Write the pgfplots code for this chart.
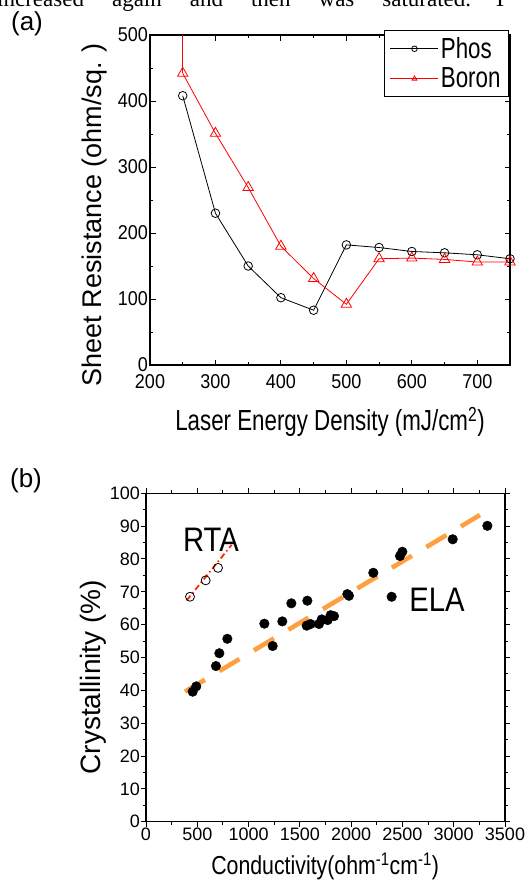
\documentclass[border=0pt]{standalone}
\usepackage{fontspec}
\setmainfont{Liberation Sans}
\newfontfamily\serifbody{Liberation Serif}
\newfontfamily\condA[FakeStretch=0.77]{Liberation Sans}
\newfontfamily\condB[FakeStretch=0.9]{Liberation Sans}
\newfontfamily\condC[FakeStretch=0.82]{Liberation Sans}
\newfontfamily\condR[FakeStretch=0.86]{Liberation Sans}
\usepackage{pgfplots}
\pgfplotsset{compat=1.18}

\definecolor{fitorange}{RGB}{255,160,64}
\definecolor{rtared}{RGB}{255,40,0}
\newcommand{\fs}[1]{\fontsize{#1}{#1}\selectfont}

\begin{document}
\begin{tikzpicture}[x=1pt,y=1pt]
% cut-off line of the paper's body text above the figure
\node[anchor=base west, inner sep=0pt, font=\serifbody\fs{23}] at (-3,-6)
  {increased\hspace{28pt}again\hspace{28pt}and\hspace{28pt}then\hspace{28pt}was\hspace{28pt}saturated.\hspace{22pt}T};

\node[font=\fs{26}] at (27,-24) {(a)};
\node[font=\fs{26}] at (26,-481) {(b)};

% (a) sheet resistance vs laser energy density
\begin{axis}[
  at={(150pt,-365pt)}, anchor=south west,
  scale only axis, width=360pt, height=330pt,
  xmin=200, xmax=750, ymin=0, ymax=500,
  xtick={200,300,...,700}, ytick={0,100,...,500},
  minor xtick={250,350,...,750}, minor ytick={50,150,...,450},
  tick align=inside, tick pos=both,
  major tick length=5.5pt, minor tick length=3pt,
  axis line style={line width=1.2pt},
  every tick/.style={black, line width=1pt},
  /pgf/number format/assume math mode=true,
  ticklabel style={font=\condB\fs{20}, inner sep=2pt},
  xticklabel style={yshift=-7pt},
  xlabel={Laser Energy Density (mJ/cm\textsuperscript{2})},
  ylabel={Sheet Resistance (ohm/sq. )},
  xlabel style={font=\condA\fs{29}, at={(axis description cs:0.5,-0.173)}, anchor=center},
  ylabel style={font=\fs{27}, at={(axis description cs:-0.153,0.455)}, anchor=center},
  legend style={at={(rel axis cs:0.997,1.015)}, anchor=north east,
    font=\condA\fs{29}, draw=black, line width=0.9pt, fill=white,
    inner xsep=6pt, inner ysep=5pt, row sep=4pt},
  legend cell align=left,
  legend image code/.code={
    \draw[#1] (0pt,0pt) -- (48pt,0pt);
    \draw[#1, mark size=2.8pt] plot coordinates {(24pt,0pt)};
  },
]
\addplot[black, line width=0.8pt, mark=o, mark size=4.3pt, mark options={fill=white, solid}]
  coordinates {(250,408) (300,230) (350,150) (400,102) (450,83) (500,182)
               (550,178) (600,172) (650,170) (700,167) (750,161)};
\addlegendentry{Phos}
\addplot[red, line width=0.8pt, mark=triangle, mark size=6pt, mark options={fill=white, solid}]
  coordinates {(250,442) (300,351) (350,269) (400,180) (450,131) (500,92)
               (550,161) (600,162) (650,160) (700,156) (750,156)};
\addlegendentry{Boron}
\addplot[red, line width=0.8pt, forget plot] coordinates {(250,442) (250,560)};
\end{axis}

% (b) crystallinity vs conductivity
\begin{axis}[
  at={(146pt,-821.7pt)}, anchor=south west,
  scale only axis, width=359pt, height=328.4pt,
  xmin=0, xmax=3500, ymin=0, ymax=100,
  xtick={0,500,...,3500}, ytick={0,10,...,100},
  minor x tick num=1, minor y tick num=1,
  tick align=outside, tick pos=both,
  major tick length=5pt, minor tick length=3pt,
  axis line style={line width=1.2pt},
  every tick/.style={black, line width=1pt},
  /pgf/number format/assume math mode=true,
  /pgf/number format/1000 sep={},
  ticklabel style={font=\fs{18}, inner sep=1pt},
  xlabel={Conductivity(ohm\textsuperscript{-1}cm\textsuperscript{-1})},
  ylabel={Crystallinity (\%)},
  xlabel style={font=\condC\fs{26}, at={(axis description cs:0.499,-0.135)}, anchor=center},
  ylabel style={font=\fs{28}, at={(axis description cs:-0.148,0.44)}, anchor=center},
]
% ELA samples
\addplot[only marks, mark=*, mark size=4.8pt, black] coordinates {
  (455,39.6) (490,41.2) (682,47.4) (715,51.3) (793,55.7) (1154,60.3)
  (1235,53.5) (1329,61.0) (1417,66.5) (1573,67.3) (1566,59.7) (1605,60.2)
  (1687,60.2) (1713,61.6) (1771,61.4) (1800,62.9) (1833,62.6) (1963,69.3)
  (1979,68.8) (2216,75.8) (2395,68.5) (2476,80.9) (2499,82.2) (2990,86.0)
  (3328,90.1)};
% ELA trend
\addplot[fitorange, line width=4.6pt, dash pattern=on 23.3pt off 16.9pt] coordinates {(380,39.6) (3256,93.4)};
% RTA samples
\addplot[only marks, mark=o, mark size=4.5pt, black, line width=0.8pt] coordinates {(429,68.5) (582,73.5) (702,77.3)};
\addplot[rtared, line width=1.8pt, dash pattern=on 6pt off 3pt on 1.5pt off 3pt] coordinates {(397,67.4) (835,84.3)};
\node[font=\condR\fs{34}] at (axis cs:634,85.8) {RTA};
\node[font=\condR\fs{34}] at (axis cs:2837,67.5) {ELA};
\end{axis}

\pgfresetboundingbox
\useasboundingbox (0,0) rectangle (527,-884);
\end{tikzpicture}
\end{document}
